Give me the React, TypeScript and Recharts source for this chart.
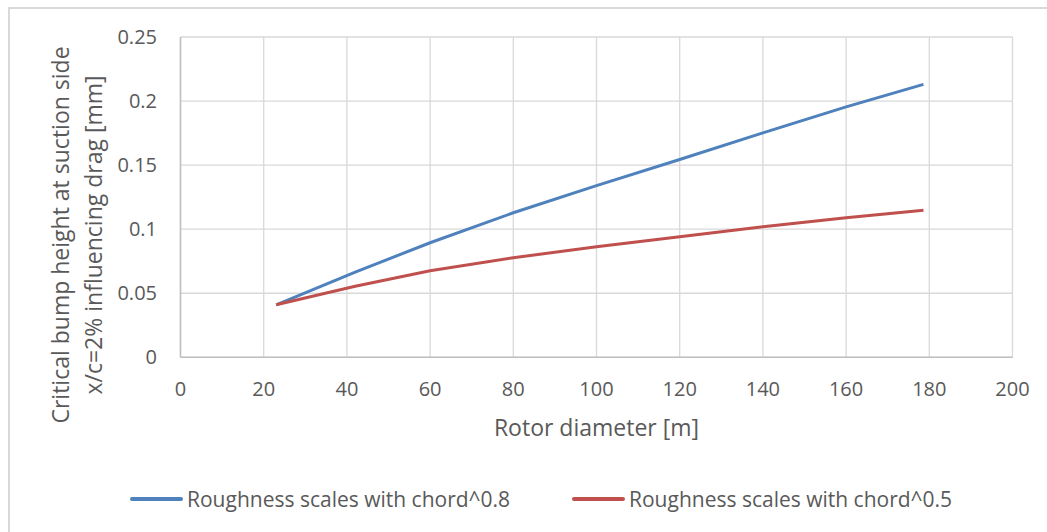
import { LineChart, Line, XAxis, YAxis, CartesianGrid, Label } from "recharts";

const diameters = [23, 42, 60, 80, 100, 120, 140, 160, 178.6];
const chord08 = [0.041, 0.0665, 0.0894, 0.1128, 0.134, 0.1544, 0.1752, 0.1955, 0.213];
const chord05 = [0.041, 0.0555, 0.0676, 0.0777, 0.0863, 0.0941, 0.1019, 0.1089, 0.1147];
const xTicks = [0, 20, 40, 60, 80, 100, 120, 140, 160, 180, 200];
const yTicks = [0, 0.05, 0.1, 0.15, 0.2, 0.25];

const series = [
  { key: "c08", name: "Roughness scales with chord^0.8", color: "#4f81bd", left: 130 },
  { key: "c05", name: "Roughness scales with chord^0.5", color: "#c0504d", left: 572 },
];

const data = diameters.map((d, i) => ({ d, c08: chord08[i], c05: chord05[i] }));

const FONT = "'Open Sans', sans-serif";
const TEXT = "#595959";

function YTitle() {
  return (
    <text transform="translate(78,235) rotate(-90)" textAnchor="middle" fontFamily={FONT} fontSize={23} fill={TEXT}>
      <tspan x={0} dy={-9}>Critical bump height at suction side</tspan>
      <tspan x={0} dy={33}>x/c=2%  influencing drag [mm]</tspan>
    </text>
  );
}

export default function App() {
  return (
    <div style={{ position: "absolute", left: 0, top: 0, width: 1047, height: 532, overflow: "hidden", background: "#fff", fontFamily: FONT }}>
      <div style={{ position: "absolute", left: 8, top: 7, width: 1100, height: 600, borderTop: "2px solid #d9d9d9", borderLeft: "2px solid #d9d9d9" }} />
      <div style={{ position: "absolute", left: 0, top: 0 }}>
        <LineChart width={1047} height={532} data={data} margin={{ top: 37, right: 34.5, bottom: 94.7, left: 100 }}>
          <CartesianGrid stroke="#d9d9d9" strokeWidth={1.3} />
          <XAxis
            dataKey="d"
            type="number"
            domain={[0, 200]}
            ticks={xTicks}
            height={80}
            tickLine={false}
            tickSize={6}
            tickMargin={18}
            stroke="#bfbfbf"
            strokeWidth={1.5}
            tick={{ fill: TEXT, fontSize: 20, fontFamily: FONT }}
          >
            <Label value="Rotor diameter [m]" position="insideBottom" offset={1} fill={TEXT} fontSize={23} fontFamily={FONT} />
          </XAxis>
          <YAxis
            type="number"
            domain={[0, 0.25]}
            ticks={yTicks}
            width={80.5}
            tickLine={false}
            tickSize={6}
            tickMargin={17.5}
            stroke="#bfbfbf"
            strokeWidth={1.5}
            tick={{ fill: TEXT, fontSize: 20, fontFamily: FONT }}
          >
            <Label content={<YTitle />} />
          </YAxis>
          {series.map((s) => (
            <Line key={s.key} dataKey={s.key} name={s.name} type="linear" stroke={s.color} strokeWidth={3} dot={false} isAnimationActive={false} />
          ))}
        </LineChart>
      </div>
      {series.map((s) => (
        <div key={s.key} style={{ position: "absolute", left: s.left, top: 484, height: 30, display: "flex", alignItems: "center", fontSize: 21, color: TEXT }}>
          <span style={{ display: "inline-block", width: 53, height: 3.5, background: s.color, borderRadius: 2, marginRight: 4 }} />
          <span style={{ whiteSpace: "nowrap" }}>{s.name}</span>
        </div>
      ))}
    </div>
  );
}
